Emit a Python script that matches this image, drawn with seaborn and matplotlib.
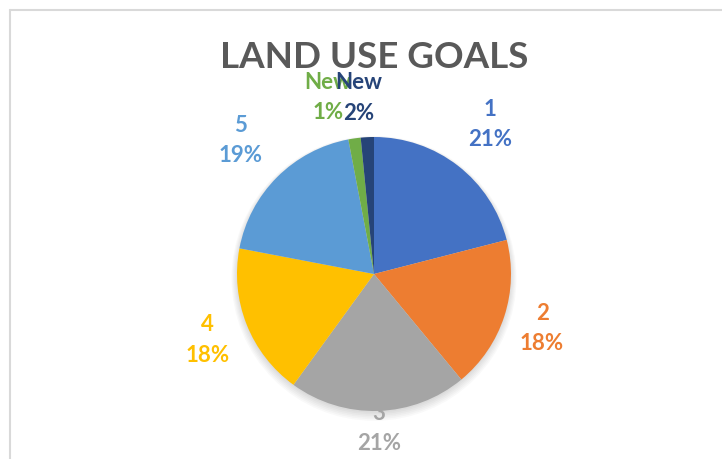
import matplotlib
matplotlib.use("Agg")
import matplotlib.pyplot as plt
import numpy as np
import seaborn as sns
from matplotlib.lines import Line2D
from matplotlib.patches import Circle

# chart data, clockwise from 12 o'clock
categories = ["1", "2", "3", "4", "5", "New", "New"]
shares = [21, 18, 21, 18, 19, 1.45, 1.55]
colors = ["#4472C4", "#ED7D31", "#A5A5A5", "#FFC000", "#5B9BD5", "#70AD47", "#264478"]

# label placement (radius factor, angle nudge in degrees)
label_radius = [1.38, 1.29, 1.13, 1.31, 1.38, 1.33, 1.29]
label_nudge = [0, 0, 0, 0, 0, 6.4, 2.1]

W, H, DPI = 722, 459, 100
CX, CY, R = 374, 274, 137  # pie centre / radius in pixels

sns.set_theme(style="white")
plt.rcParams["font.family"] = ["Lato", "DejaVu Sans"]

fig = plt.figure(figsize=(W / DPI, H / DPI), dpi=DPI)
fig.patch.set_facecolor("white")
ax = fig.add_axes([0, 0, 1, 1])

# soft shadow under the pie
for k in range(6):
    ax.add_patch(Circle((0, -0.012 - 0.004 * k), 1.0 + 0.008 * k,
                        color="black", alpha=0.025, lw=0, zorder=0))

wedges, _ = ax.pie(
    shares,
    colors=colors,
    startangle=90,
    counterclock=False,
    wedgeprops=dict(linewidth=0),
)
for w in wedges:
    w.set_zorder(2)

pct = np.array(shares) / sum(shares) * 100
for w, cat, p, col, rf, nd in zip(wedges, categories, pct, colors, label_radius, label_nudge):
    mid = np.deg2rad((w.theta1 + w.theta2) / 2 + nd)
    ax.text(rf * np.cos(mid), rf * np.sin(mid), f"{cat}\n{p:.0f}%",
            ha="center", va="center", color=col, fontsize=16,
            fontweight="bold", linespacing=1.55, zorder=3)

ax.set_xlim(-CX / R, (W - CX) / R)
ax.set_ylim(-(H - CY) / R, CY / R)
ax.set_aspect("equal")
ax.axis("off")

fig.text(CX / W, 1 - 57 / H, "LAND USE GOALS", ha="center", va="center",
         fontsize=26.5, fontweight="bold", color="#595959")

# chart area border (top and left visible)
border = "#D9D9D9"
fig.add_artist(Line2D([10 / W, 1], [1 - 10 / H, 1 - 10 / H], color=border, lw=1.5))
fig.add_artist(Line2D([10 / W, 10 / W], [0, 1 - 10 / H], color=border, lw=1.5))

fig.savefig("out.png", dpi=DPI, facecolor="white")
